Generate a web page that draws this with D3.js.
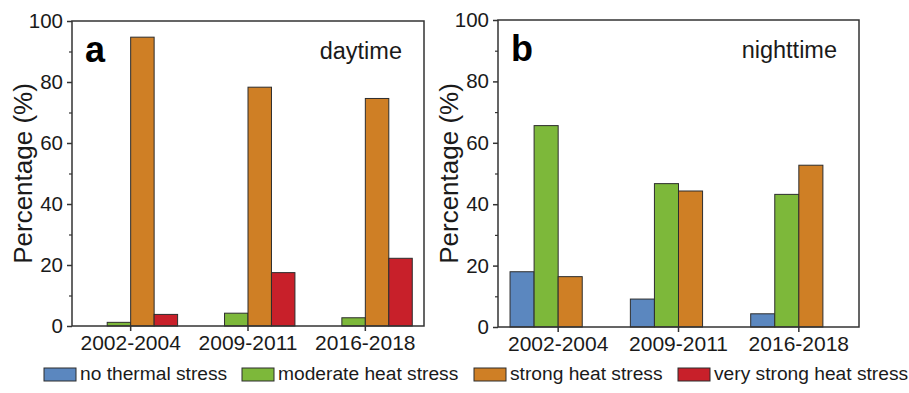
<!DOCTYPE html>
<html>
<head>
<meta charset="utf-8">
<script src="https://cdn.jsdelivr.net/npm/d3@7"></script>
<style>
  html, body { margin: 0; padding: 0; background: #fff; }
  svg { display: block; }
  svg text { font-family: "Liberation Sans", Arial, sans-serif; }
</style>
</head>
<body>
<svg id="chart" width="909" height="393"></svg>
<script>
// Periods on the x axis
const periods = ["2002-2004", "2009-2011", "2016-2018"];
// Heat-stress classes (legend order)
const classes = ["no thermal stress", "moderate heat stress", "strong heat stress", "very strong heat stress"];
const classColors = ["#5b87bf", "#7db83a", "#cf7f25", "#c8202a"];
// Share of each class per period, %; rows follow `periods`, columns follow `classes`
const daytimeValues = [
  [0, 1.2, 94.7, 3.8],
  [0, 4.2, 78.3, 17.5],
  [0, 2.7, 74.6, 22.2]
];
const nighttimeValues = [
  [18.0, 65.6, 16.4, 0],
  [9.1, 46.7, 44.3, 0],
  [4.3, 43.2, 52.7, 0]
];
const yTicks = [0, 20, 40, 60, 80, 100];
const yMinorTicks = [10, 30, 50, 70, 90];

const svg = d3.select("#chart");
const ink = "#1a1a1a";
const frame = "#333";
const font = "'Liberation Sans', Arial, sans-serif";

function panel(opts) {
  const { left, right, top, bottom, letter, title, values, labelX } = opts;
  const g = svg.append("g");

  const y = d3.scaleLinear().domain([0, 100]).range([bottom, top]);
  const x0 = d3.scaleBand().domain(periods).range([left, right]).padding(0);
  const step = x0.bandwidth();
  const x1 = d3.scaleBand().domain(classes).range([0.1 * step, 0.9 * step]).padding(0);
  const color = d3.scaleOrdinal().domain(classes).range(classColors);

  // bars
  periods.forEach((p, i) => {
    const grp = g.append("g").attr("transform", `translate(${x0(p)},0)`);
    grp.selectAll("rect")
      .data(classes.map((c, j) => ({ c, v: values[i][j] })))
      .join("rect")
      .attr("x", d => x1(d.c))
      .attr("width", x1.bandwidth())
      .attr("y", d => y(d.v))
      .attr("height", d => y(0) - y(d.v))
      .attr("fill", d => color(d.c))
      .attr("stroke", "#2d2d2d")
      .attr("stroke-width", 1);
  });

  // frame
  g.append("rect")
    .attr("x", left).attr("y", top)
    .attr("width", right - left).attr("height", bottom - top)
    .attr("fill", "none").attr("stroke", frame).attr("stroke-width", 1.5);

  // y axis
  const yAxis = g.append("g").attr("transform", `translate(${left},0)`)
    .call(d3.axisLeft(y).tickValues(yTicks).tickSize(5).tickPadding(4));
  yAxis.attr("font-family", font);
  yAxis.select(".domain").remove();
  yAxis.selectAll(".tick line").attr("stroke", frame).attr("stroke-width", 1.5);
  yAxis.selectAll(".tick text").attr("fill", ink).style("font-size", "20.5px");
  const yMinor = g.append("g").attr("transform", `translate(${left},0)`)
    .call(d3.axisLeft(y).tickValues(yMinorTicks).tickSize(3).tickFormat(""));
  yMinor.select(".domain").remove();
  yMinor.selectAll(".tick line").attr("stroke", frame).attr("stroke-width", 1.2);

  // x axis
  const xAxis = g.append("g").attr("transform", `translate(0,${bottom})`)
    .call(d3.axisBottom(x0).tickSize(5).tickPadding(4));
  xAxis.attr("font-family", font);
  xAxis.select(".domain").remove();
  xAxis.selectAll(".tick line").attr("stroke", frame).attr("stroke-width", 1.5);
  xAxis.selectAll(".tick text").attr("fill", ink).style("font-size", "21px");

  // y label
  g.append("text")
    .attr("transform", `translate(${labelX},${(top + bottom) / 2}) rotate(-90)`)
    .attr("text-anchor", "middle")
    .attr("dominant-baseline", "central")
    .attr("fill", ink)
    .style("font-size", "26px")
    .text("Percentage (%)");

  // panel letter and title
  g.append("text")
    .attr("x", left + 13).attr("y", top + 41)
    .attr("fill", "#000")
    .style("font-size", "36px").style("font-weight", "bold")
    .text(letter);
  g.append("text")
    .attr("x", right - 22).attr("y", top + 38)
    .attr("text-anchor", "end")
    .attr("fill", ink)
    .style("font-size", "23.5px")
    .text(title);
}

panel({ left: 72, right: 424, top: 21, bottom: 326, letter: "a", title: "daytime", values: daytimeValues, labelX: 23 });
panel({ left: 498, right: 859, top: 20, bottom: 327, letter: "b", title: "nighttime", values: nighttimeValues, labelX: 449 });

// legend
const legendX = [44, 242, 474, 678];
const legend = svg.append("g");
classes.forEach((c, i) => {
  legend.append("rect")
    .attr("x", legendX[i]).attr("y", 368)
    .attr("width", 32).attr("height", 13)
    .attr("fill", classColors[i])
    .attr("stroke", "#2d2d2d").attr("stroke-width", 1);
  legend.append("text")
    .attr("x", legendX[i] + 36).attr("y", 380)
    .attr("fill", ink)
    .style("font-size", "19.2px")
    .text(c);
});
</script>
</body>
</html>
